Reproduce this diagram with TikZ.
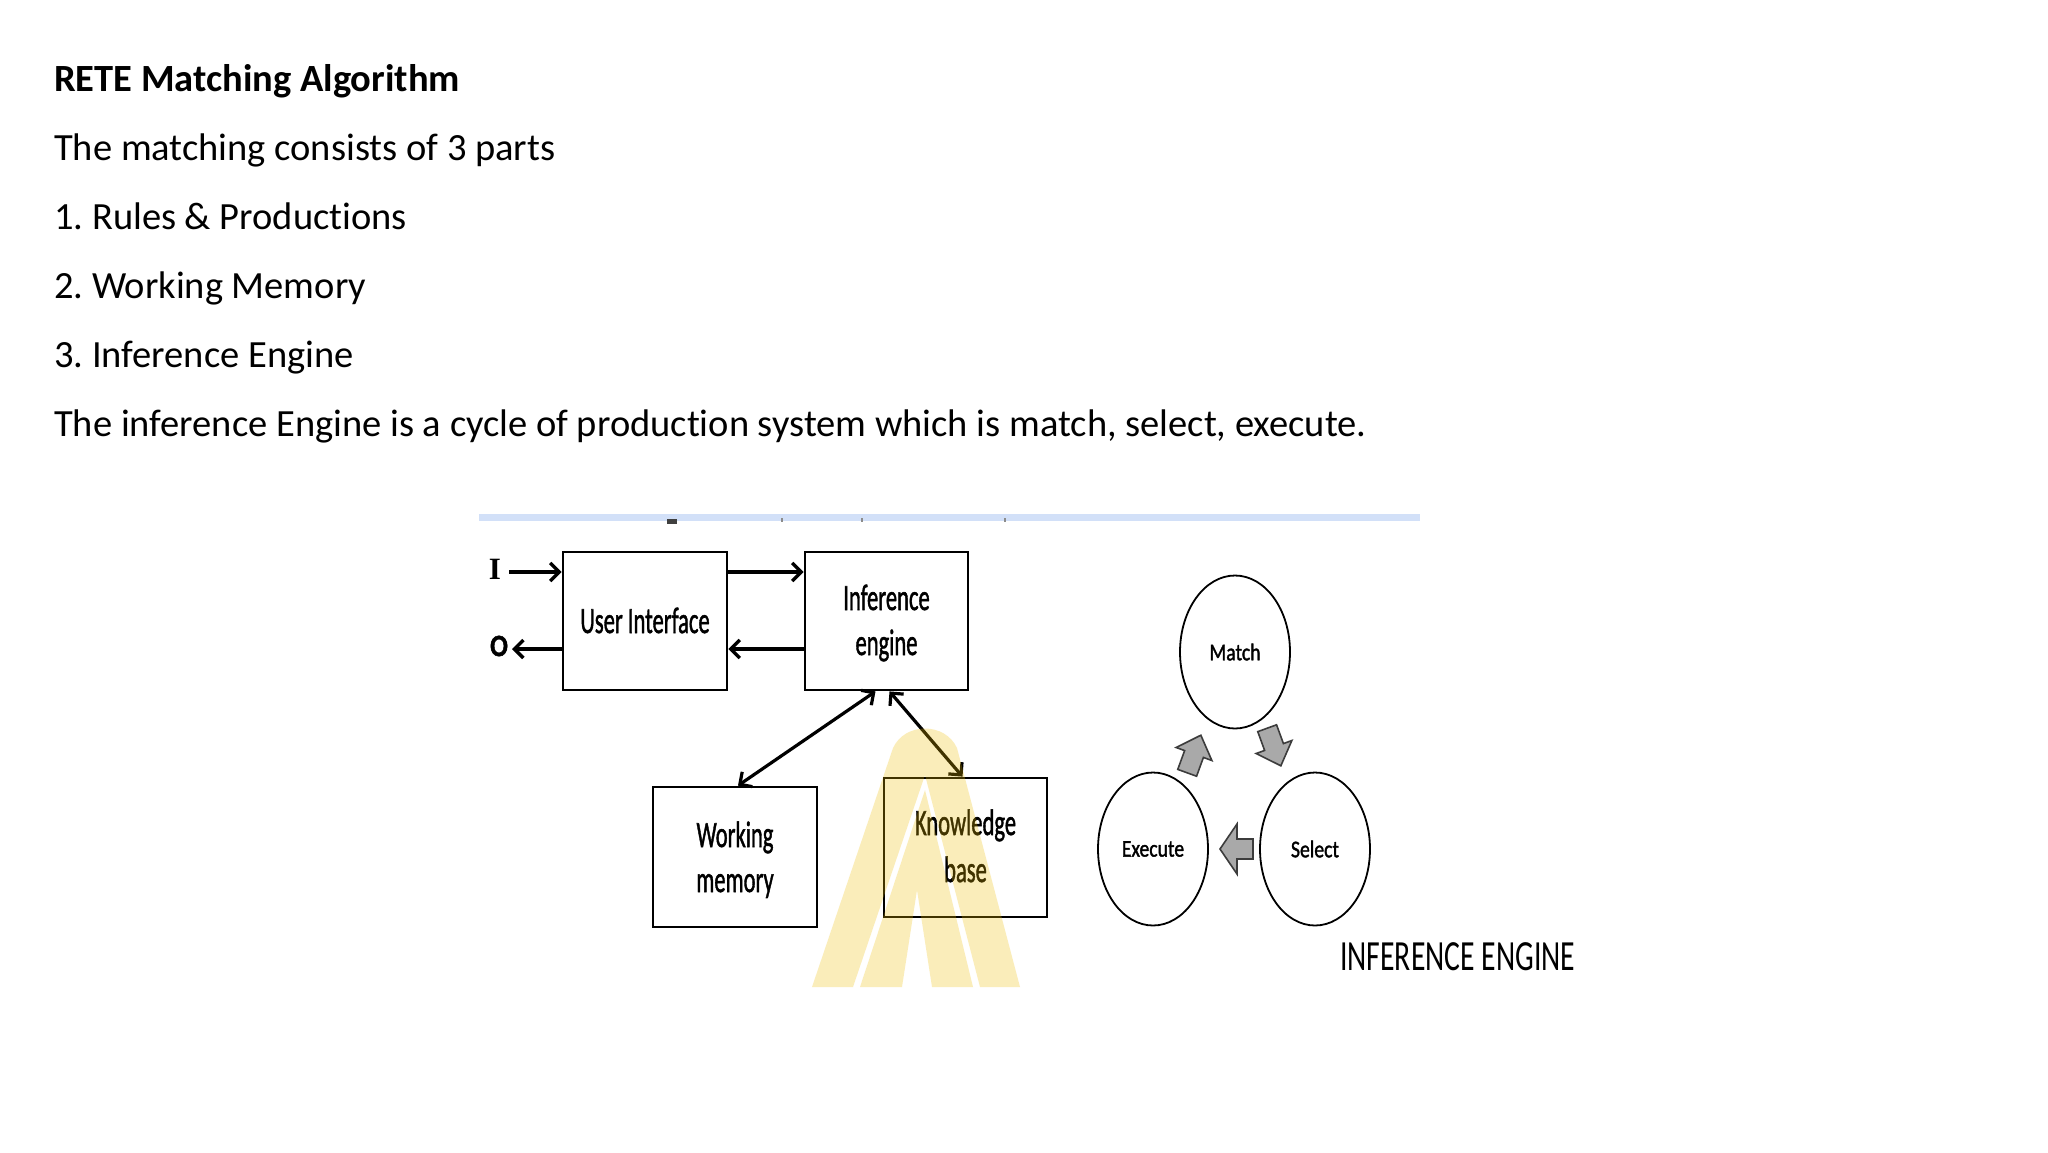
\documentclass[tikz,border=0pt]{standalone}
\usepackage{graphicx}
\usepackage{fontspec}
\setmainfont{Carlito}[Ligatures=NoCommon]
\newfontfamily\diagfont{Carlito}[Ligatures=NoCommon,FakeBold=1.6]
\newfontfamily\serifI{Liberation Serif}
\usetikzlibrary{arrows.meta,shapes.geometric,calc}
\definecolor{bluebar}{HTML}{D2E0F8}
\definecolor{wmark}{RGB}{240,190,0}
\definecolor{arrfill}{HTML}{A9A9A9}
\definecolor{arredge}{HTML}{3C3C3C}
\newcommand{\nx}[2]{\scalebox{#1}[1]{#2}}
\frenchspacing
\begin{document}
\begin{tikzpicture}[x=1pt,y=-1pt,
  slide/.style={anchor=base west, inner sep=0pt, font=\fontsize{38.5}{46}\selectfont},
  box/.style={draw, line width=2.8pt, inner sep=0pt},
  boxtxt/.style={anchor=base, inner sep=0pt, font=\diagfont\fontsize{37}{43}\selectfont},
  flow/.style={line width=3.4pt, -{Straight Barb[length=9pt,width=18pt]}},
  flowtwo/.style={line width=3.2pt, {Straight Barb[length=9pt,width=18pt]}-{Straight Barb[length=9pt,width=18pt]}},
  cyc/.style={ellipse, draw, line width=1.8pt, minimum width=110pt, minimum height=153pt, inner sep=0pt, font=\diagfont\fontsize{24}{28}\selectfont},
  blockarrow/.style={fill=arrfill, draw=arredge, line width=1.6pt, line join=miter}]
\useasboundingbox (0,0) rectangle (2048,1152);
\fill[white] (0,0) rectangle (2048,1152);

% slide text
\node[slide, font=\bfseries\fontsize{38.5}{46}\selectfont] (title) at (54,91) {RETE Matching Algorithm};
\node[slide] (l1) at (54,160) {The matching consists of 3 parts};
\node[slide] (l2) at (54,229) {1. Rules \& Productions};
\node[slide] (l3) at (54,298) {2. Working Memory};
\node[slide] (l4) at (54,367) {3. Inference Engine};
\node[slide] (l5) at (54,436) {The inference Engine is a cycle of production system which is match, select, execute.};

% top bar of the pasted picture
\fill[bluebar] (479,514) rectangle (1420,521);
\fill[black!75] (667,519) rectangle (677,524);
\fill[black!45] (781,518) rectangle (783,522);
\fill[black!45] (861,518) rectangle (863,522);
\fill[black!45] (1004,518) rectangle (1006,522);

% boxes
\node[box, minimum width=164pt, minimum height=138pt] (ui) at (645,621) {};
\node[box, minimum width=163pt, minimum height=138pt] (ie) at (886.5,621) {};
\node[box, minimum width=164pt, minimum height=140pt] (wm) at (735,857) {};
\node[box, minimum width=163pt, minimum height=139pt] (kb) at (965.5,847.5) {};

\node[boxtxt] (uit) at (645,633) {\nx{0.61}{User Interface}};
\node[boxtxt] (iet1) at (886.5,610) {\nx{0.61}{Inference}};
\node[boxtxt] (iet2) at (886.5,655) {\nx{0.61}{engine}};
\node[boxtxt] (wmt1) at (735,847) {\nx{0.61}{Working}};
\node[boxtxt] (wmt2) at (735,892) {\nx{0.61}{memory}};
\node[boxtxt] (kbt1) at (965.5,835) {\nx{0.61}{Knowledge}};
\node[boxtxt] (kbt2) at (965.5,882) {\nx{0.61}{base}};

% I / O
\node[inner sep=0pt, font=\serifI\bfseries\fontsize{31}{34}\selectfont] (ilab) at (495,569) {I};
\node[inner sep=0pt, font=\diagfont\bfseries\fontsize{31}{34}\selectfont] (olab) at (499,646) {\nx{0.85}{O}};
\coordinate (iin) at (509,572);
\coordinate (oout) at (512,649);

\draw[flow] (iin) -- (iin -| ui.west);
\draw[flow] (oout -| ui.west) -- (oout);
\draw[flow] (ui.east |- iin) -- (ie.west |- iin);
\draw[flow] (ie.west |- oout) -- (ui.east |- oout);
\draw[flowtwo] ($(ie.south)+(-11,0)$) -- ($(wm.north)+(3,0)$);
\draw[flowtwo] ($(ie.south)+(3,0)$) -- ($(kb.north)+(-3,0)$);

% cycle
\node[cyc] (match) at (1235,652) {\nx{0.82}{Match}};
\node[cyc] (execute) at (1153,849) {\nx{0.82}{Execute}};
\node[cyc] (select) at (1315,849) {\nx{0.82}{Select}};

\path[blockarrow, shift={(1237,849)}, rotate=180] (-16,-10) -- (0,-10) -- (0,-25) -- (17,0) -- (0,25) -- (0,10) -- (-16,10) -- cycle;
\path[blockarrow, shift={(1194,754)}, rotate=70] (-20,-10) -- (0,-10) -- (0,-19) -- (20,0) -- (0,19) -- (0,10) -- (-20,10) -- cycle;
\path[blockarrow, shift={(1274,747)}, rotate=-70] (-20,-10) -- (0,-10) -- (0,-19) -- (20,0) -- (0,19) -- (0,10) -- (-20,10) -- cycle;

\node[anchor=base west, inner sep=0pt, font=\fontsize{43}{48}\selectfont] (ietitle) at (1340,970) {\nx{0.69}{INFERENCE ENGINE}};

% watermark
\fill[wmark, fill opacity=0.27] (812,987) -- (893,748) .. controls (905,722) and (945,722) .. (957,748) -- (1020,987) -- (980,987) -- (925,775) -- (853,987) -- cycle;
\fill[wmark, fill opacity=0.27] (860,987) -- (925,790) -- (973,987) -- (932,987) -- (917,890) -- (902,987) -- cycle;
\end{tikzpicture}
\end{document}
